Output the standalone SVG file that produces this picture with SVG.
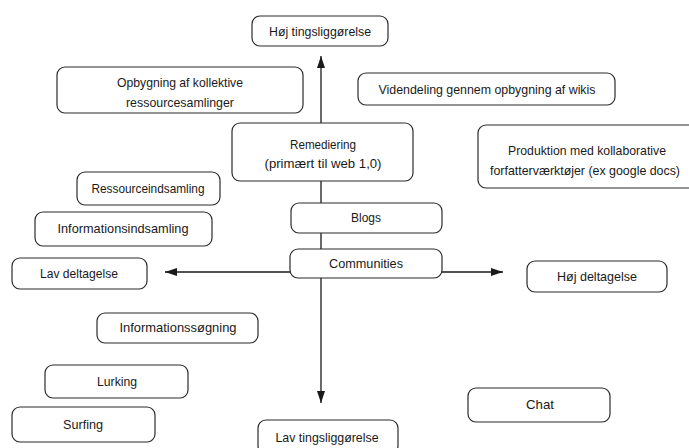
<svg xmlns="http://www.w3.org/2000/svg" width="689" height="448" viewBox="0 0 689 448">
  <style>
    .box { fill: #ffffff; stroke: #2b2b2b; stroke-width: 1.2; }
    .lbl { font-family: "Liberation Sans", Arial, sans-serif; font-size: 13px; fill: #1a1a1a; text-anchor: middle; }
    .conn { stroke: #1a1a1a; stroke-width: 1.3; fill: none; }
  </style>
  <defs>
    <marker id="arrow" viewBox="0 0 12 8" refX="12" refY="4" markerWidth="12" markerHeight="8" markerUnits="userSpaceOnUse" orient="auto">
      <path d="M0,0 L12,4 L0,8 z" fill="#1a1a1a"/>
    </marker>
  </defs>
  <rect width="689" height="448" fill="#ffffff"/>

  <g id="connectors">
    <line class="conn" x1="321" y1="123" x2="321" y2="56" marker-end="url(#arrow)"/>
    <line class="conn" x1="321" y1="181" x2="321" y2="203"/>
    <line class="conn" x1="321" y1="233" x2="321" y2="249"/>
    <line class="conn" x1="321" y1="278" x2="321" y2="403" marker-end="url(#arrow)"/>
    <line class="conn" x1="290" y1="272" x2="165" y2="272" marker-end="url(#arrow)"/>
    <line class="conn" x1="442" y1="272" x2="503" y2="272" marker-end="url(#arrow)"/>
  </g>

  <g id="hoej-tingsliggoerelse">
    <rect class="box" x="252" y="16" width="136" height="30" rx="8"/>
    <text class="lbl" x="320" y="36" textLength="102" lengthAdjust="spacingAndGlyphs">Høj tingsliggørelse</text>
  </g>
  <g id="opbygning">
    <rect class="box" x="57" y="67" width="246" height="46" rx="8"/>
    <text class="lbl" x="180" y="87" textLength="126" lengthAdjust="spacingAndGlyphs">Opbygning af kollektive</text>
    <text class="lbl" x="180" y="107" textLength="108" lengthAdjust="spacingAndGlyphs">ressourcesamlinger</text>
  </g>
  <g id="videndeling">
    <rect class="box" x="358" y="73" width="257" height="32" rx="8"/>
    <text class="lbl" x="487" y="94" textLength="217" lengthAdjust="spacingAndGlyphs">Videndeling gennem opbygning af wikis</text>
  </g>
  <g id="remediering">
    <rect class="box" x="232" y="123" width="181" height="58" rx="8"/>
    <text class="lbl" x="323" y="149" textLength="66" lengthAdjust="spacingAndGlyphs">Remediering</text>
    <text class="lbl" x="323" y="168" textLength="117" lengthAdjust="spacingAndGlyphs">(primært til web 1,0)</text>
  </g>
  <g id="produktion">
    <rect class="box" x="478" y="125" width="220" height="63" rx="8"/>
    <text class="lbl" x="587" y="155" textLength="158" lengthAdjust="spacingAndGlyphs">Produktion med kollaborative</text>
    <text class="lbl" x="585" y="175" textLength="190" lengthAdjust="spacingAndGlyphs">forfatterværktøjer (ex google docs)</text>
  </g>
  <g id="ressourceindsamling">
    <rect class="box" x="77" y="172" width="143" height="33" rx="8"/>
    <text class="lbl" x="148" y="193" textLength="113" lengthAdjust="spacingAndGlyphs">Ressourceindsamling</text>
  </g>
  <g id="informationsindsamling">
    <rect class="box" x="35" y="212" width="177" height="34" rx="8"/>
    <text class="lbl" x="123" y="233" textLength="131" lengthAdjust="spacingAndGlyphs">Informationsindsamling</text>
  </g>
  <g id="blogs">
    <rect class="box" x="291" y="203" width="151" height="30" rx="8"/>
    <text class="lbl" x="366" y="222" textLength="30" lengthAdjust="spacingAndGlyphs">Blogs</text>
  </g>
  <g id="communities">
    <rect class="box" x="290" y="249" width="152" height="29" rx="8"/>
    <text class="lbl" x="366" y="268" textLength="74" lengthAdjust="spacingAndGlyphs">Communities</text>
  </g>
  <g id="lav-deltagelse">
    <rect class="box" x="12" y="258" width="135" height="31" rx="8"/>
    <text class="lbl" x="79" y="278" textLength="78" lengthAdjust="spacingAndGlyphs">Lav deltagelse</text>
  </g>
  <g id="hoej-deltagelse">
    <rect class="box" x="527" y="261" width="140" height="31" rx="8"/>
    <text class="lbl" x="597" y="281" textLength="80" lengthAdjust="spacingAndGlyphs">Høj deltagelse</text>
  </g>
  <g id="informationssoegning">
    <rect class="box" x="97" y="313" width="161" height="30" rx="8"/>
    <text class="lbl" x="178" y="332" textLength="117" lengthAdjust="spacingAndGlyphs">Informationssøgning</text>
  </g>
  <g id="lurking">
    <rect class="box" x="45" y="365" width="143" height="33" rx="8"/>
    <text class="lbl" x="117" y="386" textLength="40" lengthAdjust="spacingAndGlyphs">Lurking</text>
  </g>
  <g id="surfing">
    <rect class="box" x="12" y="407" width="143" height="35" rx="8"/>
    <text class="lbl" x="83" y="429" textLength="40" lengthAdjust="spacingAndGlyphs">Surfing</text>
  </g>
  <g id="chat">
    <rect class="box" x="468" y="388" width="142" height="34" rx="8"/>
    <text class="lbl" x="540" y="409" textLength="28" lengthAdjust="spacingAndGlyphs">Chat</text>
  </g>
  <g id="lav-tingsliggoerelse">
    <rect class="box" x="258" y="420" width="140" height="34" rx="8"/>
    <text class="lbl" x="327" y="442" textLength="103" lengthAdjust="spacingAndGlyphs">Lav tingsliggørelse</text>
  </g>
</svg>
